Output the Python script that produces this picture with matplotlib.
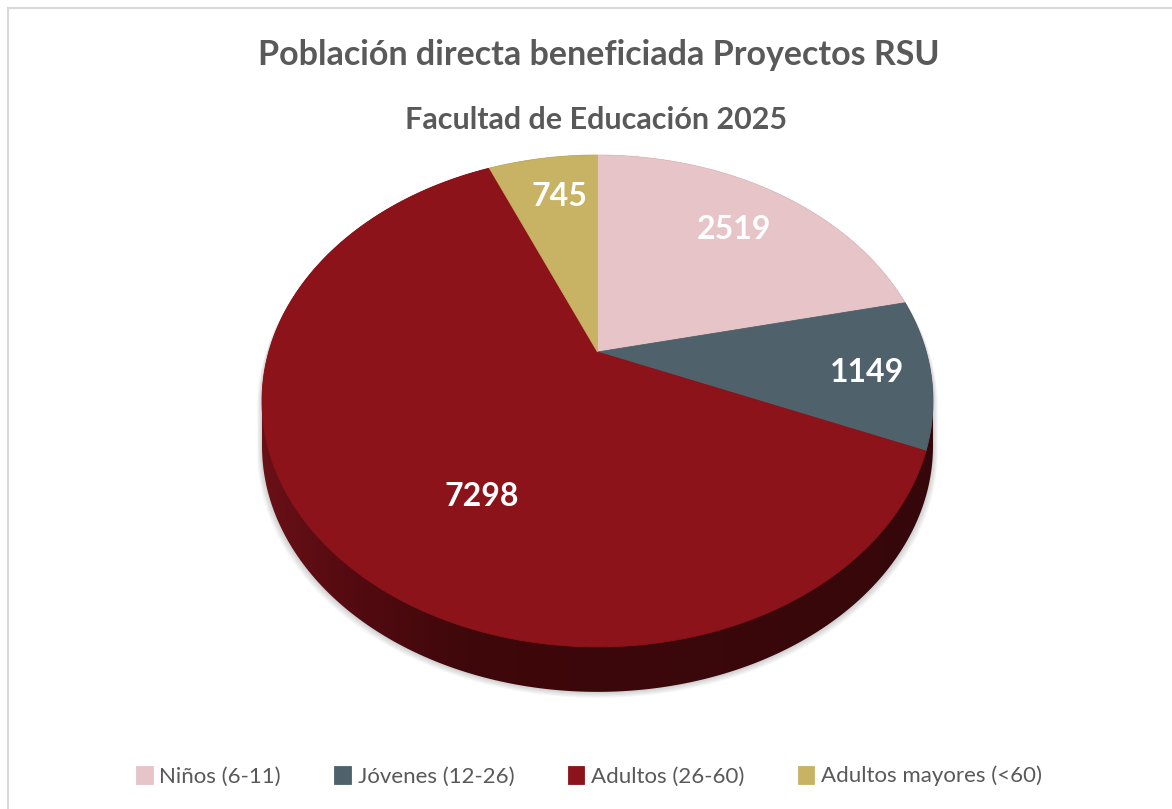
import numpy as np
import matplotlib
matplotlib.use("Agg")
from matplotlib import pyplot as plt
from matplotlib.transforms import Transform
from matplotlib.patches import Polygon, Rectangle
from matplotlib.colors import LinearSegmentedColormap
from matplotlib.path import Path

title = "Población directa beneficiada Proyectos RSU"
subtitle = "Facultad de Educación 2025"
categories = ["Niños (6-11)", "Jóvenes (12-26)", "Adultos (26-60)", "Adultos mayores (<60)"]
values = [2519, 1149, 7298, 745]
colors = ["#E6C4C8", "#4F626C", "#8C131A", "#C8B364"]

# label placement inside the slices (radius, angle shift in degrees)
label_r = [0.74, 0.81, 0.63, 0.77]
label_shift = [0, -1, 15, -1.5]


class Perspective(Transform):
    """unit disk -> tilted disk in pixel coords (y down)"""
    input_dims = 2
    output_dims = 2

    def __init__(self, cx, cy, a, b, k):
        super().__init__()
        self.cx, self.cy, self.a, self.b, self.k = cx, cy, a, b, k

    def transform_non_affine(self, xy):
        xy = np.asarray(xy, dtype=float)
        u, v = xy[:, 0], xy[:, 1]
        w = 1 + self.k * v
        return np.column_stack([self.cx + self.a * u / w, self.cy - self.b * v / w])

    def transform_path_non_affine(self, path):
        # flatten the bezier arcs before projecting
        pts = []
        for curve, code in path.iter_bezier():
            if code == Path.MOVETO:
                pts.append(curve.control_points)
            else:
                pts.append(curve(np.linspace(0, 1, 24))[1:])
        verts = np.vstack(pts)
        return Path(self.transform_non_affine(verts))


W, H = 1172, 809
fig = plt.figure(figsize=(W / 100, H / 100), dpi=100)
ax = fig.add_axes([0, 0, 1, 1])

persp = Perspective(597.5, 352, 328.8, 236.2, 0.199)
depth = 45

wedges, _ = ax.pie(values, colors=colors, startangle=90, counterclock=False,
                   wedgeprops=dict(linewidth=0.6))
for w, c in zip(wedges, colors):
    w.set_transform(persp + ax.transData)
    w.set_edgecolor(c)
    w.set_zorder(3)

# side wall of the disk
t = np.linspace(0, 2 * np.pi, 721)
circ = np.column_stack([np.cos(t), np.sin(t)])
hull = persp.transform_non_affine(circ)
hull[circ[:, 1] < -persp.k, 1] += depth

# soft shadow
for off in [10, 8, 6, 4, 2]:
    sh = hull.copy()
    sh[:, 1] += off * 0.6
    sh[:, 0] = 597.5 + (sh[:, 0] - 597.5) * (1 + off / 700)
    ax.add_patch(Polygon(sh, closed=True, facecolor="#000000", alpha=0.035,
                         edgecolor="none", zorder=0.5))

side = Polygon(hull, closed=True, facecolor="none", edgecolor="none",
               transform=ax.transData)
ax.add_patch(side)
side_cmap = LinearSegmentedColormap.from_list(
    "side", [(0, "#6a1017"), (0.12, "#550b11"), (0.3, "#3f080b"), (1, "#36070a")])
grad = np.linspace(0, 1, 256).reshape(1, -1)
img = ax.imshow(grad, cmap=side_cmap, aspect="auto", zorder=1,
                extent=[hull[:, 0].min(), hull[:, 0].max(), hull[:, 1].max(), hull[:, 1].min()])
img.set_clip_path(side)

# value labels
total = sum(values)
start = 90
for i, v in enumerate(values):
    mid = start - 360 * v / total / 2 + label_shift[i]
    start -= 360 * v / total
    p = (label_r[i] * np.cos(np.radians(mid)), label_r[i] * np.sin(np.radians(mid)))
    ax.text(p[0], p[1], str(v), transform=persp + ax.transData, ha="center", va="center",
            color="white", fontsize=23, fontweight="bold", family="Lato", zorder=5)

ax.set_aspect("auto")
ax.set_xlim(0, W)
ax.set_ylim(H, 0)
ax.axis("off")

fig.text(599 / W, 1 - 55 / H, title, ha="center", va="center", fontsize=24.5,
         fontweight="bold", color="#595959", family="Lato")
fig.text(596 / W, 1 - 120 / H, subtitle, ha="center", va="center", fontsize=22,
         fontweight="bold", color="#595959", family="Lato")

fig.legend(wedges, categories, loc="center", bbox_to_anchor=(589 / W, 1 - 776 / H),
           ncol=4, frameon=False, handlelength=0.75, handleheight=0.9, handletextpad=0.3,
           columnspacing=2.4, prop=dict(family="Lato", size=16), labelcolor="#595959")

fig.patches.append(Rectangle((7.5 / W, -0.1), 1.2, 1 - 8 / H + 0.1, transform=fig.transFigure,
                             fill=False, edgecolor="#d9d9d9", linewidth=1.5))

fig.savefig("out.png", dpi=100)
